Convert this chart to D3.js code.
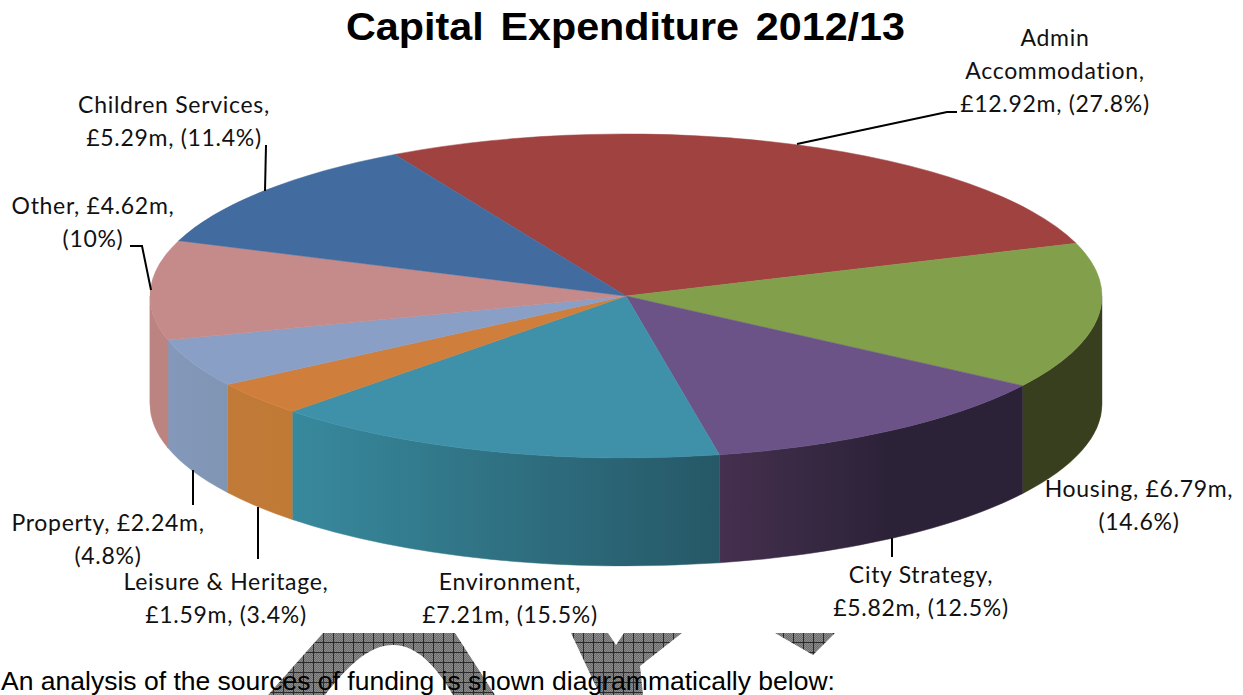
<!DOCTYPE html>
<html>
<head>
<meta charset="utf-8">
<title>Capital Expenditure 2012/13</title>
<script src="https://cdn.jsdelivr.net/npm/d3@7"></script>
<style>
  html, body { margin: 0; padding: 0; background: #fff; overflow: hidden; }
  svg { display: block; }
</style>
</head>
<body>
<script>
// Spending by service area, in £m, and the percentages quoted in the labels.
const categories = ["Admin Accommodation", "Housing", "City Strategy", "Environment",
                    "Leisure & Heritage", "Property", "Other", "Children Services"];
const amounts = [12.92, 6.79, 5.82, 7.21, 1.59, 2.24, 4.62, 5.29];
const percents = ["27.8%", "14.6%", "12.5%", "15.5%", "3.4%", "4.8%", "10%", "11.4%"];

const topColours = ["#a04240", "#82a04c", "#6b5388", "#3f91a9", "#cf7f3b", "#8a9fc6", "#c58a8a", "#426c9f"];
// Left and right shade of the rim for each slice.
const rimLeft  = ["#7a3230", "#383f1e", "#45304f", "#38899d", "#c27a38", "#8498bb", "#bb8481", "#32527a"];
const rimRight = ["#7a3230", "#383f1e", "#2c2238", "#265867", "#c17936", "#8094b3", "#b67f7e", "#32527a"];

const titleText = "Capital Expenditure 2012/13";
const bodyText = "An analysis of the sources of funding is shown diagrammatically below:";

// Label wording broken into lines, in slice order.
const labelLines = [
  ["Admin", "Accommodation,", "£" + amounts[0].toFixed(2) + "m, (" + percents[0] + ")"],
  ["Housing, £" + amounts[1].toFixed(2) + "m,", "(" + percents[1] + ")"],
  ["City Strategy,", "£" + amounts[2].toFixed(2) + "m, (" + percents[2] + ")"],
  ["Environment,", "£" + amounts[3].toFixed(2) + "m, (" + percents[3] + ")"],
  ["Leisure & Heritage,", "£" + amounts[4].toFixed(2) + "m, (" + percents[4] + ")"],
  ["Property, £" + amounts[5].toFixed(2) + "m,", "(" + percents[5] + ")"],
  ["Other, £" + amounts[6].toFixed(2) + "m,", "(" + percents[6] + ")"],
  ["Children Services,", "£" + amounts[7].toFixed(2) + "m, (" + percents[7] + ")"]
];

// Label placement: centre x and baseline of the first line.
const labelAnchors = [[1055, 46], [1139, 497], [921, 583], [510, 590], [226, 590], [108, 531], [93, 214], [174, 113]];
// Leader lines running from each label to the pie.
const leaders = [
  [[797, 144], [947, 112], [957, 112]],
  [[892, 538], [892, 557]],
  [[258, 507], [258, 559]],
  [[193, 470], [193, 505]],
  [[130, 246], [142, 246], [151, 290]],
  [[265, 191], [266, 145]]
];

// Hatched shapes cut off by the page break above the closing sentence.
const hatchShapes = [
  "M268,695 L323,633 L455,633 L495,695 L453,695 C437,668 418,645 393,645 C368,645 346,668 325,695 Z",
  "M571,633 L608,633 L616,645 L624,633 L682,633 L640,666 L643,695 L600,695 Z",
  "M775,633 L835,633 L813,655 Z"
];

const width = 1243, height = 695;
const cx = 626, cy = 296, rx = 476, ry = 162, depth = 108;
const yScale = ry / rx;
const startAngle = -29.05 * Math.PI / 180;

const svg = d3.select("body").append("svg").attr("width", width).attr("height", height);
const defs = svg.append("defs");

// Cross-hatch tile: a fine dither under a 10px dark grid.
const tile = defs.append("pattern").attr("id", "hatch").attr("patternUnits", "userSpaceOnUse")
  .attr("width", 10).attr("height", 10).attr("x", 3).attr("y", 2);
tile.append("rect").attr("width", 10).attr("height", 10).attr("fill", "#8c8c8c");
d3.range(100).filter(i => (i % 10 + Math.floor(i / 10)) % 2 === 0).forEach(i => {
  tile.append("rect").attr("x", i % 10).attr("y", Math.floor(i / 10))
    .attr("width", 1).attr("height", 1).attr("fill", "#6c6c6c");
});
tile.append("rect").attr("width", 10).attr("height", 1).attr("fill", "#2a2a2a");
tile.append("rect").attr("width", 1).attr("height", 10).attr("fill", "#2a2a2a");

svg.append("g").selectAll("path").data(hatchShapes).join("path")
  .attr("d", d => d).attr("fill", "url(#hatch)");

const pie = d3.pie().sort(null).startAngle(startAngle).endAngle(startAngle + 2 * Math.PI);
const slices = pie(amounts);

// Rim gradients live in the pie group's coordinates, so x is relative to the centre.
slices.forEach((s, i) => {
  const g = defs.append("linearGradient").attr("id", "rim" + i)
    .attr("gradientUnits", "userSpaceOnUse").attr("y1", 0).attr("y2", 0);
  const xs = [rx * Math.sin(s.startAngle), rx * Math.sin(s.endAngle)];
  g.attr("x1", d3.min(xs)).attr("x2", d3.max(xs));
  g.append("stop").attr("offset", 0).attr("stop-color", rimLeft[i]);
  if (i === 2) g.append("stop").attr("offset", 0.55).attr("stop-color", rimRight[i]);
  g.append("stop").attr("offset", 1).attr("stop-color", rimRight[i]);
});

const pieGroup = svg.append("g").attr("transform", `translate(${cx},${cy}) scale(1,${yScale})`);
const scaledDepth = depth / yScale;

// The rim shows only on the front half of the disc, angles 90° to 270°.
function rimPath(s) {
  const a0 = Math.max(s.startAngle, Math.PI / 2), a1 = Math.min(s.endAngle, 3 * Math.PI / 2);
  if (a1 <= a0) return null;
  const p = d3.path(), off = -Math.PI / 2;
  p.moveTo(rx * Math.cos(a0 + off), rx * Math.sin(a0 + off));
  p.arc(0, 0, rx, a0 + off, a1 + off, false);
  p.lineTo(rx * Math.cos(a1 + off), rx * Math.sin(a1 + off) + scaledDepth);
  p.arc(0, scaledDepth, rx, a1 + off, a0 + off, true);
  p.closePath();
  return p.toString();
}

pieGroup.append("g").selectAll("path").data(slices).join("path")
  .attr("d", rimPath)
  .attr("fill", (d, i) => `url(#rim${i})`)
  .attr("stroke", (d, i) => `url(#rim${i})`)
  .attr("stroke-width", 0.5)
  .attr("vector-effect", "non-scaling-stroke");

// Faint highlight where the rim meets the page at the far left and right.
svg.append("g").attr("stroke", "#d6d6d6").attr("stroke-width", 1)
  .selectAll("line").data([cx - rx - 0.5, cx + rx + 0.5]).join("line")
  .attr("x1", d => d).attr("x2", d => d).attr("y1", cy).attr("y2", cy + depth);

const arc = d3.arc().innerRadius(0).outerRadius(rx);
pieGroup.append("g").selectAll("path").data(slices).join("path")
  .attr("d", arc)
  .attr("fill", (d, i) => topColours[i])
  .attr("stroke", (d, i) => topColours[i])
  .attr("stroke-width", 0.5)
  .attr("vector-effect", "non-scaling-stroke");

// Leader lines
const line = d3.line();
svg.append("g").attr("fill", "none").attr("stroke", "#000").attr("stroke-width", 2)
  .selectAll("path").data(leaders).join("path").attr("d", line);

// Slice labels
const lineStep = 33;
const labels = svg.append("g").attr("font-family", "Lato, 'Noto Sans', sans-serif")
  .attr("font-size", 23).attr("letter-spacing", 0.7).attr("fill", "#111").attr("text-anchor", "middle");
labelLines.forEach((lines, i) => {
  const [x, y] = labelAnchors[i];
  labels.append("text").attr("aria-label", categories[i]).selectAll("tspan").data(lines).join("tspan")
    .attr("x", x).attr("y", (d, j) => y + j * lineStep).text(d => d);
});

svg.append("text").attr("x", 346).attr("y", 40)
  .attr("font-family", "'Liberation Sans', Arial, sans-serif").attr("font-weight", 700)
  .attr("font-size", 39).attr("word-spacing", 5).attr("textLength", 559).attr("lengthAdjust", "spacingAndGlyphs")
  .attr("fill", "#000").text(titleText);

svg.append("text").attr("x", 1).attr("y", 690)
  .attr("font-family", "'Liberation Sans', Arial, sans-serif")
  .attr("font-size", 26).attr("textLength", 834).attr("lengthAdjust", "spacingAndGlyphs")
  .attr("fill", "#000").text(bodyText);
</script>
</body>
</html>
